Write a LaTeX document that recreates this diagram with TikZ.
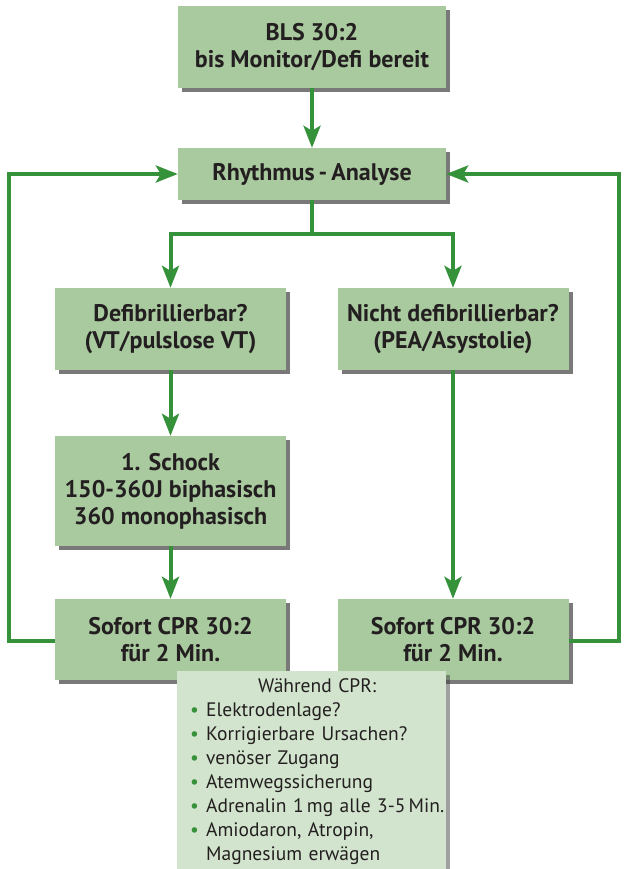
\documentclass[tikz,border=0pt]{standalone}
\usepackage{fontspec}
\setmainfont{PT Sans}
\usetikzlibrary{positioning,arrows.meta,shadows}

\definecolor{boxgreen}{HTML}{A9C99E}
\definecolor{notegreen}{HTML}{D2E4CD}
\definecolor{flowgreen}{HTML}{35913A}
\definecolor{inkgray}{HTML}{231F20}

\newcommand{\wpkt}{\makebox[16pt][l]{\textcolor{flowgreen}{\textbullet}}}

\begin{document}
\begin{tikzpicture}[
  x=1pt, y=-1pt,
  stepbox/.style={fill=boxgreen, text=inkgray, inner sep=0pt, align=center,
    font=\fontsize{24}{27}\selectfont\bfseries,
    drop shadow={shadow xshift=4pt, shadow yshift=-4pt, fill=black!75, opacity=0.7}},
  wide/.style  ={minimum width=268pt},
  narrow/.style={minimum width=231pt},
  notebox/.style={fill=notegreen, inner sep=0pt,
    drop shadow={shadow xshift=4pt, shadow yshift=-4pt, fill=black!75, opacity=0.5}},
  notetext/.style={text=inkgray, inner sep=0pt, align=left, text width=262pt,
    font=\fontsize{19.5}{24}\selectfont},
  flow/.style={draw=flowgreen, line width=4pt,
    -{Stealth[length=22pt, width=17pt, inset=5pt]}},
  loop/.style={draw=flowgreen, line width=4pt}]
\useasboundingbox (0,0) rectangle (624,869);
% --- main column ---
\node[stepbox, wide, minimum height=82pt] (bls) at (312,47)
  {BLS 30:2\\bis Monitor/Defi bereit};
\node[stepbox, wide, minimum height=52pt] (rhythmus) at (312,174)
  {Rhythmus\,-\,Analyse};
% --- two branches ---
\node[stepbox, narrow, minimum height=82pt] (defib) at (170.5,329)
  {Defibrillierbar?\\(VT/pulslose VT)};
\node[stepbox, narrow, minimum height=82pt] (nichtdefib) at (453,329)
  {Nicht defibrillierbar?\\(PEA/Asystolie)};
\node[stepbox, narrow, minimum height=110pt] (schock) at (170.5,491)
  {1. Schock\\150-360J biphasisch\\360 monophasisch};
\node[stepbox, narrow, minimum height=81pt] (cprlinks) at (170.5,639.5)
  {Sofort CPR 30:2\\für 2 Min.};
\node[stepbox, narrow, minimum height=81pt] (cprrechts) at (453,639.5)
  {Sofort CPR 30:2\\für 2 Min.};
% --- connectors ---
\coordinate (gabel) at (312,234);
\coordinate (linksoben) at (9,174);
\coordinate (linksunten) at (9,641);
\coordinate (rechtsoben) at (619,174);
\coordinate (rechtsunten) at (619,641);
\draw[flow] (bls) -- (rhythmus);
\draw[loop] (rhythmus) -- (gabel);
\draw[flow] (gabel) -| (defib);
\draw[flow] (gabel) -| (nichtdefib);
\draw[flow] (defib) -- (schock);
\draw[flow] (schock) -- (cprlinks);
\draw[flow] (nichtdefib) -- (cprrechts);
\draw[flow] (cprlinks.west |- linksunten) -- (linksunten) -- (linksoben) -- (rhythmus.west);
\draw[flow] (cprrechts.east |- rechtsunten) -- (rechtsunten) -- (rechtsoben) -- (rhythmus.east);
% --- notes during CPR ---
\node[notebox, minimum width=269pt, minimum height=220pt, anchor=north] (waehrend) at (311.5,671) {};
\node[notetext, anchor=north west] (waehrendtext) at (190,678)
  {\makebox[254pt]{Während CPR:}\\
   \wpkt Elektrodenlage?\\
   \wpkt Korrigierbare Ursachen?\\
   \wpkt venöser Zugang\\
   \wpkt Atemwegssicherung\\
   \wpkt Adrenalin 1\,mg alle \mbox{3-5}\,Min.\\
   \wpkt Amiodaron, Atropin,\\
   \hspace*{16pt}Magnesium erwägen};
\end{tikzpicture}
\end{document}
